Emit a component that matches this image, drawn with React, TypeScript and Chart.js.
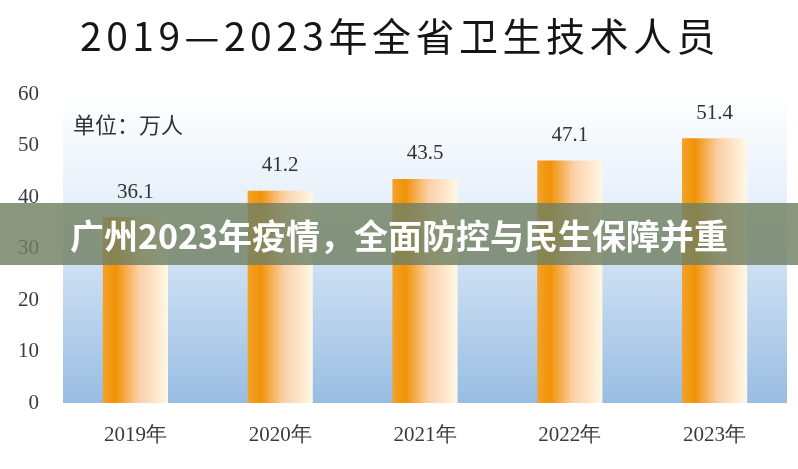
import React, { useEffect, useRef } from "react";
import { Chart, registerables } from "chart.js";

Chart.register(...registerables);

const title = "2019—2023年全省卫生技术人员";
const unitLabel = "单位：万人";
const bannerText = "广州2023年疫情，全面防控与民生保障并重";
const categories = ["2019年", "2020年", "2021年", "2022年", "2023年"];
const values = [36.1, 41.2, 43.5, 47.1, 51.4];
const yTicks = [0, 10, 20, 30, 40, 50, 60];

const CJK = '"Noto Sans CJK SC", "Noto Sans", sans-serif';
const SERIF = '"Liberation Serif", "DejaVu Serif", serif';

export default function App() {
  const ref = useRef<HTMLCanvasElement | null>(null);

  useEffect(() => {
    document.body.style.margin = "0";
    const canvas = ref.current!;
    const BAR_FRAC = 0.45;

    const bgPlugin = {
      id: "plotBg",
      beforeDatasetsDraw(chart: any) {
        const { ctx, chartArea: a } = chart;
        const g = ctx.createLinearGradient(0, a.top, 0, a.bottom);
        g.addColorStop(0, "#ffffff");
        g.addColorStop(0.35, "#e6f0fa");
        g.addColorStop(1, "#98bde3");
        ctx.save();
        ctx.fillStyle = g;
        ctx.fillRect(a.left, a.top, a.right - a.left, a.bottom - a.top);
        ctx.restore();
      },
    };

    const overlayPlugin = {
      id: "overlay",
      afterDraw(chart: any) {
        const { ctx, width } = chart;
        const meta = chart.getDatasetMeta(0);
        ctx.save();
        // value labels
        ctx.fillStyle = "#333333";
        ctx.font = `21px ${SERIF}`;
        ctx.textAlign = "center";
        ctx.textBaseline = "middle";
        meta.data.forEach((el: any, i: number) => {
          ctx.fillText(values[i].toFixed(1), el.x, el.y - 25);
        });
        // unit label
        ctx.font = `22px ${CJK}`;
        ctx.textAlign = "left";
        ctx.fillStyle = "#333333";
        ctx.fillText(unitLabel, 73, 125);
        // title
        ctx.font = `39px ${CJK}`;
        ctx.textAlign = "center";
        ctx.fillStyle = "#151515";
        (ctx as any).letterSpacing = "4.5px";
        ctx.fillText(title, width / 2 + 1, 36);
        (ctx as any).letterSpacing = "0px";
        // banner
        ctx.fillStyle = "rgba(112,128,98,0.82)";
        ctx.fillRect(0, 203, width, 62);
        ctx.font = `bold 34px ${CJK}`;
        ctx.fillStyle = "#ffffff";
        ctx.fillText(bannerText, width / 2, 236);
        ctx.restore();
      },
    };

    const chart = new Chart(canvas, {
      type: "bar",
      data: {
        labels: categories,
        datasets: [
          {
            data: values,
            barPercentage: BAR_FRAC,
            categoryPercentage: 1,
            borderWidth: 0,
            backgroundColor: (c: any) => {
              const ch = c.chart;
              const xs = ch.scales?.x;
              if (!xs || !ch.chartArea) return "#f29a1a";
              const center = xs.getPixelForValue(c.dataIndex);
              const hw = ((xs.right - xs.left) / categories.length) * BAR_FRAC / 2;
              const g = ch.ctx.createLinearGradient(center - hw, 0, center + hw, 0);
              g.addColorStop(0, "#f3a22a");
              g.addColorStop(0.2, "#f09206");
              g.addColorStop(0.55, "#fbcfa6");
              g.addColorStop(1, "#fff8e6");
              return g;
            },
          },
        ],
      },
      options: {
        animation: false,
        responsive: false,
        maintainAspectRatio: false,
        layout: { padding: { top: 94, right: 11, left: 0, bottom: 0 } },
        plugins: {
          legend: { display: false },
          tooltip: { enabled: false },
          title: { display: false },
        },
        scales: {
          x: {
            grid: { display: false },
            border: { display: false },
            ticks: {
              color: "#3a3a3a",
              font: { family: SERIF, size: 21 },
              padding: 12,
            },
            afterFit(s: any) {
              s.height = 66;
            },
          },
          y: {
            min: 0,
            max: 60,
            afterBuildTicks(s: any) {
              s.ticks = yTicks.map((v) => ({ value: v }));
            },
            grid: { display: false },
            border: { display: false },
            ticks: {
              color: "#3a3a3a",
              font: { family: SERIF, size: 21 },
              padding: 16,
            },
            afterFit(s: any) {
              s.width = 63;
            },
          },
        },
      },
      plugins: [bgPlugin, overlayPlugin],
    } as any);

    return () => chart.destroy();
  }, []);

  return (
    <div style={{ width: 798, height: 469, background: "#ffffff" }}>
      <canvas ref={ref} width={798} height={469} style={{ display: "block" }} />
    </div>
  );
}
